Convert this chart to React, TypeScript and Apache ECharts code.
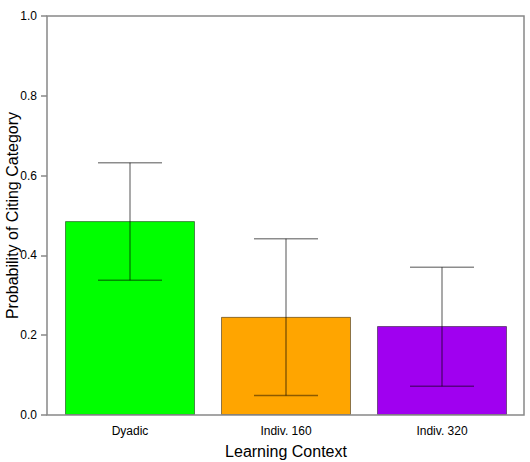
import React, { useEffect, useRef } from "react";
import * as echarts from "echarts";

const categories = ["Dyadic", "Indiv. 160", "Indiv. 320"];
const means = [0.486, 0.246, 0.223];
const lowerCI = [0.338, 0.049, 0.072];
const upperCI = [0.632, 0.442, 0.37];
const barColors = ["#00ff00", "#ffa500", "#a000f0"];
const yTicks = [0, 0.2, 0.4, 0.6, 0.8, 1.0];

export default function App() {
  const ref = useRef<HTMLDivElement>(null);
  useEffect(() => {
    if (!ref.current) return;
    const chart = echarts.init(ref.current, undefined, { renderer: "svg" });
    const font = "'Liberation Sans', Arial, sans-serif";
    chart.setOption({
      animation: false,
      grid: { left: 52, right: 10, top: 16, bottom: 47, containLabel: false, outerBoundsMode: "none" },
      xAxis: {
        type: "category",
        data: categories,
        axisLine: { show: false },
        axisTick: { show: false },
        axisLabel: { color: "#000", fontSize: 12, fontFamily: font, margin: 10 },
        name: "Learning Context",
        nameLocation: "middle",
        nameGap: 28,
        nameMoveOverlap: false,
        nameTextStyle: { color: "#000", fontSize: 16, fontFamily: font },
      },
      yAxis: {
        type: "value",
        min: yTicks[0],
        max: yTicks[yTicks.length - 1],
        interval: 0.2,
        offset: 5,
        splitLine: { show: false },
        axisLine: { show: false },
        axisTick: { show: true, length: 6, lineStyle: { color: "#888", width: 1.5 } },
        axisLabel: {
          color: "#000",
          fontSize: 12,
          fontFamily: font,
          margin: 10,
          formatter: (v: number) => v.toFixed(1),
        },
        name: "Probability of Citing Category",
        nameLocation: "middle",
        nameGap: 27,
        nameMoveOverlap: false,
        nameTextStyle: { color: "#000", fontSize: 16, fontFamily: font },
      },
      series: [
        {
          type: "bar",
          barWidth: 130,
          data: means.map((m, i) => ({
            value: m,
            itemStyle: {
              color: barColors[i],
              borderColor: "rgba(0,0,0,0.45)",
              borderWidth: 1,
            },
          })),
          z: 2,
        },
        {
          type: "custom",
          z: 5,
          data: categories.map((_, i) => [i, lowerCI[i], upperCI[i]]),
          renderItem: (params: any, api: any) => {
            const i = api.value(0);
            const lo = api.coord([i, api.value(1)]);
            const hi = api.coord([i, api.value(2)]);
            const hw = 32;
            const style = { stroke: "rgba(0,0,0,0.45)", lineWidth: 1.5 };
            return {
              type: "group",
              children: [
                { type: "line", shape: { x1: lo[0], y1: lo[1], x2: hi[0], y2: hi[1] }, style },
                { type: "line", shape: { x1: hi[0] - hw, y1: hi[1], x2: hi[0] + hw, y2: hi[1] }, style },
                { type: "line", shape: { x1: lo[0] - hw, y1: lo[1], x2: lo[0] + hw, y2: lo[1] }, style },
              ],
            };
          },
        },
      ],
      graphic: [
        {
          type: "rect",
          z: 10,
          shape: { x: 47, y: 16, width: 477, height: 399 },
          style: { fill: "none", stroke: "#888", lineWidth: 1.5 },
          silent: true,
        },
      ],
    });
    return () => chart.dispose();
  }, []);
  return <div ref={ref} style={{ width: 530, height: 462, position: "absolute", left: 0, top: 0 }} />;
}
